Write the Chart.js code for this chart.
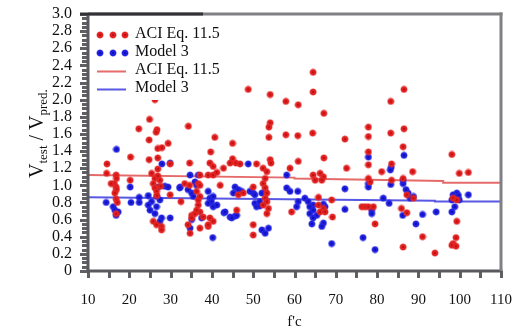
<!DOCTYPE html>
<html>
<head>
<meta charset="utf-8">
<script src="https://cdn.jsdelivr.net/npm/chart.js@4"></script>
<style>
html, body { margin: 0; padding: 0; background: #fff; }
</style>
</head>
<body>
<canvas id="c" width="521" height="332"></canvas>
<script>
// ACI Eq. 11.5 points (f'c, Vtest/Vpred)
const aciX = [26.2,24.9,22.3,26.7,26.5,34.3,24.8,29.4,26.9,27.9,
  20.3,24.8,26.9,14.6,34.6,26.9,39.7,40.7,45.0,48.8,
  45.0,45.8,50.8,29.9,39.5,42.8,54.1,57.9,60.9,54.1,
  53.8,53.8,57.9,60.8,54.1,54.3,60.9,64.5,64.5,67.1,
  64.4,72.2,67.1,77.9,77.9,77.9,77.9,83.3,86.5,83.3,
  86.5,86.3,83.5,98.1,72.6,64.5,66.2,67.0,65.0,66.6,
  77.9,78.3,81.1,83.5,86.3,65.8,69.0,65.8,67.0,66.2,
  67.4,69.2,76.3,77.1,77.9,79.1,79.5,85.9,86.3,87.2,
  87.2,88.8,88.6,91.0,94.0,99.9,102.1,98.4,99.3,99.3,
  99.1,98.4,98.1,99.1,59.3,58.9,52.4,53.3,52.9,52.4,
  52.9,53.3,52.9,53.3,53.7,52.4,53.3,40.3,42.0,36.3,
  36.7,37.1,37.9,46.0,46.4,47.6,37.1,39.1,50.0,50.0,
  50.0,14.5,16.8,16.9,16.4,16.8,16.9,16.5,16.8,17.1,
  16.8,15.6,20.2,25.4,26.2,25.8,26.2,26.6,26.7,27.4,
  27.6,26.9,25.8,26.6,27.8,27.8,29.9,32.5,33.4,34.6,
  37.1,36.7,37.1,35.1,35.1,35.9,36.3,34.7,34.2,36.7,
  37.1,39.5,40.3,39.1,39.1,40.3,41.2,44.4,46.8];
const aciY = [2.00,1.77,1.66,1.65,1.62,1.69,1.53,1.49,1.43,1.44,
  1.33,1.30,1.32,1.25,1.26,1.19,1.39,1.56,1.49,2.12,
  1.31,1.26,1.25,1.25,1.26,1.20,2.06,1.98,1.94,1.73,
  1.68,1.56,1.59,1.58,1.30,1.26,1.28,2.32,2.09,1.84,
  1.61,1.54,1.32,1.68,1.57,1.39,1.24,1.98,2.12,1.61,
  1.66,1.45,1.25,1.36,1.20,1.12,1.14,1.10,1.06,1.06,
  1.08,1.04,1.16,1.06,1.08,0.86,0.83,0.77,0.73,0.69,
  0.69,0.63,0.75,0.75,0.75,0.75,0.55,0.73,0.28,0.68,
  0.89,0.85,1.16,0.40,0.21,1.14,1.15,0.85,0.83,0.58,
  0.39,0.32,0.30,0.29,0.69,1.20,1.20,1.16,1.08,1.02,
  0.97,0.91,0.85,0.81,0.73,0.77,0.67,1.22,1.00,0.93,
  0.77,0.69,0.63,0.71,0.89,0.91,0.50,0.52,0.54,0.42,
  0.98,1.14,1.12,1.08,1.02,0.98,0.95,0.91,0.84,0.80,
  0.67,1.02,1.06,1.14,1.08,1.02,0.97,0.93,0.88,1.06,
  0.99,1.11,0.58,0.54,0.52,0.48,0.89,0.81,1.02,1.00,
  1.12,1.02,1.00,0.65,0.62,0.67,0.71,0.44,0.54,0.83,
  0.87,0.62,0.58,0.54,1.12,1.12,1.15,1.26,1.25];

// Model 3 points
const m3X = [16.9,27.9,29.9,48.8,77.9,86.5,83.4,20.2,14.4,16.1,
  16.5,16.8,17.3,20.4,22.4,22.4,24.6,25.4,24.6,25.0,
  26.2,27.0,26.6,27.4,26.6,27.8,27.4,28.6,29.4,29.9,
  32.3,34.7,35.1,35.5,35.9,36.3,35.1,34.7,37.5,39.1,
  39.5,40.3,39.9,39.1,40.3,41.2,40.2,42.9,45.6,45.2,
  46.4,44.4,45.6,49.2,50.0,50.4,50.4,50.8,36.7,43.2,
  44.8,46.0,47.2,51.6,52.1,52.9,51.6,52.1,53.7,52.9,
  58.1,58.1,58.9,60.8,60.9,60.5,77.9,77.9,83.2,83.3,
  86.3,72.2,62.5,63.3,64.5,63.7,64.5,63.7,65.4,64.5,
  64.2,67.0,67.4,67.0,66.6,72.2,78.7,78.7,76.6,81.5,
  82.9,86.2,69.0,87.5,88.8,88.0,79.5,89.4,91.0,94.3,
  87.0,86.3,99.3,98.4,99.7,98.8,98.1,99.9,102.1,98.8,
  98.1,32.2,34.2];
const m3Y = [1.42,1.25,1.26,1.25,1.33,1.35,1.21,0.98,0.80,0.75,
  0.71,0.65,0.69,0.80,0.80,0.86,0.88,0.81,0.77,0.71,
  0.67,0.98,0.87,0.83,0.75,0.62,0.58,0.99,0.98,0.62,
  0.98,1.12,0.91,0.87,1.04,1.00,0.60,0.50,0.62,0.93,
  0.85,0.87,0.81,0.79,0.75,0.77,0.39,0.68,0.98,0.91,
  0.95,0.63,0.64,0.93,0.91,0.89,0.79,0.75,1.12,0.69,
  0.62,0.65,0.93,0.76,0.91,0.93,0.81,0.48,0.50,0.44,
  1.12,0.97,0.93,0.93,0.81,0.75,1.02,0.98,1.18,1.01,
  1.02,0.96,0.85,0.81,0.77,0.75,0.71,0.67,0.65,0.62,
  0.55,0.78,0.75,0.56,0.52,0.72,0.71,0.67,0.39,0.85,
  0.79,0.65,0.32,0.91,0.87,0.85,0.25,0.55,0.66,0.69,
  0.95,1.06,0.91,0.89,0.88,0.85,0.83,0.83,0.89,0.75,
  0.69,0.97,0.95];

// fitted trend lines
const aciFitX = [10, 60, 60, 96, 96, 110];
const aciFitY = [1.12, 1.09, 1.08, 1.05, 1.03, 1.03];
const m3FitX = [10, 94, 94, 110];
const m3FitY = [0.86, 0.82, 0.81, 0.81];

// tick labels
const xTickLabels = [10, 20, 30, 40, 50, 60, 70, 80, 90, 100, 110];
const yTickLabels = ['0','0.2','0.4','0.6','0.8','1.0','1.2','1.4','1.6','1.8','2.0','2.2','2.4','2.6','2.8','3.0'];

const serif = '"Liberation Serif", "Times New Roman", serif';
const pts = (xs, ys) => xs.map((x, i) => ({ x: x, y: ys[i] }));

function dot(core, mid, edge) {
    const cv = document.createElement('canvas');
    cv.width = cv.height = 8;
    const g = cv.getContext('2d');
    const gr = g.createRadialGradient(4, 4, 0, 4, 4, 4);
    gr.addColorStop(0, core);
    gr.addColorStop(0.35, mid);
    gr.addColorStop(0.7, mid);
    gr.addColorStop(1, edge);
    g.fillStyle = gr;
    g.beginPath(); g.arc(4, 4, 4, 0, Math.PI * 2); g.fill();
    return cv;
}
const redDot = dot('#9a0000', '#e22020', 'rgba(235,70,70,0)');
const blueDot = dot('#00008a', '#1e1ee0', 'rgba(70,70,235,0)');

// legend drawn inside the plot, top left, on a white box
const legendBox = {
    id: 'legendBox',
    afterDatasetsDraw(chart) {
        const ctx = chart.ctx;
        const rows = [34, 52, 70, 88];
        ctx.save();
        ctx.fillStyle = '#fff';
        ctx.fillRect(90, 16, 128, 84);
        ctx.font = '16px ' + serif;
        ctx.textBaseline = 'middle';
        chart.data.datasets.forEach((d, i) => {
            const y = rows[i];
            if (d.showLine) {
                ctx.fillStyle = d.borderColor;
                ctx.fillRect(97, y + 0.5, 29, 2);
            } else {
                [100, 113, 125].forEach(x => ctx.drawImage(d.pointStyle, x - 4, y - 3));
            }
            ctx.fillStyle = '#111';
            ctx.fillText(d.label, 135, y);
        });
        ctx.restore();
    }
};

// plot frame, outward ticks on left/bottom, rotated y title with subscripts
const frame = {
    id: 'frame',
    afterDraw(chart) {
        const ctx = chart.ctx, a = chart.chartArea;
        const sx = chart.scales.x, sy = chart.scales.y;
        const w = a.right - a.left, h = a.bottom - a.top;
        ctx.save();
        ctx.fillStyle = 'rgb(96,96,100)';
        sx.ticks.forEach(t => {
            const px = Math.round(sx.getPixelForValue(t.value));
            ctx.fillRect(px - 1, a.bottom, 3, 7);
        });
        sy.ticks.forEach(t => {
            const py = Math.round(sy.getPixelForValue(t.value));
            const len = Math.round(t.value * 20) % 4 === 0 ? 8 : 6;
            ctx.fillRect(a.left - len, py - 1, len, 3);
        });
        ctx.fillStyle = 'rgb(90,90,94)';
        ctx.fillRect(a.left - 1.5, a.top, 3, h + 1.5);
        ctx.fillRect(a.left - 1.5, a.bottom - 1.5, w + 3, 3);
        ctx.fillStyle = 'rgb(128,128,132)';
        ctx.fillRect(a.left, a.top - 1.5, w + 1.5, 3);
        ctx.fillRect(a.right - 1.5, a.top - 1.5, 3, h + 1.5);
        ctx.fillStyle = 'rgb(50,50,54)';
        ctx.fillRect(80, a.top - 1.5, 123, 3);

        ctx.translate(43, 178);
        ctx.rotate(-Math.PI / 2);
        ctx.fillStyle = '#111';
        ctx.textBaseline = 'alphabetic';
        const parts = [
            { t: 'V', size: 20, dy: 0 },
            { t: 'test', size: 13, dy: 4 },
            { t: ' / V', size: 20, dy: 0 },
            { t: 'pred.', size: 13, dy: 4 }
        ];
        let x = 0;
        parts.forEach(p => {
            ctx.font = p.size + 'px ' + serif;
            ctx.fillText(p.t, x, p.dy);
            x += ctx.measureText(p.t).width;
        });
        ctx.restore();
    }
};

new Chart(document.getElementById('c'), {
    type: 'scatter',
    data: {
        datasets: [{
            label: 'ACI Eq. 11.5',
            data: pts(aciX, aciY),
            pointStyle: redDot,
            order: 1
        }, {
            label: 'Model 3',
            data: pts(m3X, m3Y),
            pointStyle: blueDot,
            order: 2
        }, {
            label: 'ACI Eq. 11.5',
            data: pts(aciFitX, aciFitY),
            showLine: true,
            borderColor: 'rgba(226,90,90,0.9)',
            borderWidth: 2,
            pointRadius: 0,
            order: 3
        }, {
            label: 'Model 3',
            data: pts(m3FitX, m3FitY),
            showLine: true,
            borderColor: 'rgba(70,70,225,0.9)',
            borderWidth: 2,
            pointRadius: 0,
            order: 4
        }]
    },
    options: {
        responsive: false,
        animation: false,
        devicePixelRatio: 1,
        layout: { padding: { top: 14, right: 20, left: 0, bottom: 0 } },
        plugins: { legend: { display: false }, tooltip: { enabled: false } },
        scales: {
            x: {
                type: 'linear', min: 10, max: 110,
                afterFit: s => { s.height = 61; },
                border: { display: false },
                grid: { display: true, drawOnChartArea: false, tickLength: 16, color: 'rgba(0,0,0,0)' },
                ticks: {
                    stepSize: 5, autoSkip: false, maxRotation: 0, maxTicksLimit: 100,
                    padding: 4, color: '#111', font: { family: serif, size: 15 },
                    callback: v => xTickLabels.includes(v) ? String(v) : ''
                },
                title: {
                    display: true, text: "f'c", color: '#111',
                    padding: { top: 0, bottom: 1 }, font: { family: serif, size: 15 }
                }
            },
            y: {
                min: 0, max: 3,
                afterFit: s => { s.width = 88; },
                border: { display: false },
                grid: { display: true, drawOnChartArea: false, tickLength: 12, color: 'rgba(0,0,0,0)' },
                ticks: {
                    stepSize: 0.05, autoSkip: false, maxTicksLimit: 100,
                    padding: 4, color: '#111', font: { family: serif, size: 16 },
                    callback: v => {
                        const k = Math.round(v * 20);
                        return k % 4 === 0 ? yTickLabels[k / 4] : '';
                    }
                }
            }
        }
    },
    plugins: [legendBox, frame]
});
</script>
</body>
</html>
